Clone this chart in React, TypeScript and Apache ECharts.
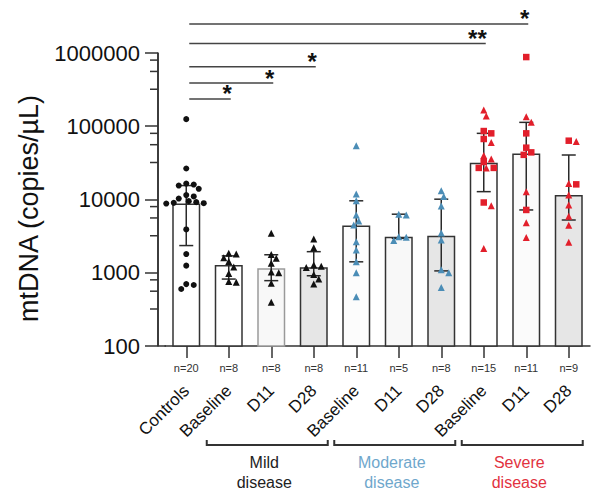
import React, { useEffect, useRef } from "react";
import * as echarts from "echarts";

// ---------------- DATA ----------------
const CATEGORY_LABELS = ["Controls", "Baseline", "D11", "D28", "Baseline", "D11", "D28", "Baseline", "D11", "D28"];
const N_COUNTS = [20, 8, 8, 8, 11, 5, 8, 15, 11, 9];
const BAR_VALUES = [8800, 1280, 1150, 1190, 4400, 3100, 3200, 31800, 42600, 11500];
const ERR_LOW = [2350, 820, 780, 910, 1410, 2950, 1060, 12800, 7200, 5250];
const ERR_HIGH = [15500, 1700, 1760, 1940, 9600, 6300, 10100, 80000, 113000, 40500];

const CONTROLS = [125000, 26500, 16500, 16000, 15500, 14000, 11500, 11000, 10300, 9500, 9200, 9000, 8900, 8800, 3900, 1800, 1250, 700, 680, 600];
const MILD_BASELINE = [1850, 1800, 1600, 1420, 1200, 980, 760, 740];
const MILD_D11 = [3450, 1780, 1580, 1350, 1020, 1000, 720, 395];
const MILD_D28 = [2900, 2200, 1280, 1230, 1180, 950, 820, 700];
const MOD_BASELINE = [54000, 11900, 9600, 6150, 5100, 4500, 2650, 2040, 1410, 1000, 470];
const MOD_D11 = [6300, 6150, 3100, 3050, 2750];
const MOD_D28 = [13200, 11000, 8150, 3500, 2800, 1100, 1000, 630];
const SEV_BASELINE_TRI = [167000, 138000, 60000, 40000, 35700, 27000, 8230, 2150];
const SEV_BASELINE_SQ = [86000, 80000, 67000, 32500, 27000, 27000, 9100];
const SEV_D11_TRI = [135000, 113000, 12800, 4800, 3030];
const SEV_D11_SQ = [880000, 80000, 51000, 44000, 40700, 7200];
const SEV_D28_TRI = [62000, 16600, 11500, 8400, 5900, 4450, 2600];
const SEV_D28_SQ = [63500, 16100];

const SIG_FROM = [0, 0, 0, 0, 0];
const SIG_TO = [1, 2, 3, 7, 8];
const SIG_LABELS = ["*", "*", "*", "**", "*"];

const GROUP_NAMES = ["Mild\ndisease", "Moderate\ndisease", "Severe\ndisease"];
const GROUP_FIRST = [1, 4, 7];
const GROUP_LAST = [3, 6, 9];

const Y_NAME = "mtDNA (copies/\u00B5L)";
const MINOR_TICK_FACTORS = [3.2, 5.6, 8];
const DECADES = [100, 1000, 10000, 100000];

// ---------------- LAYOUT / STYLE ----------------
const W = 608;
const H = 502;
const GRID = { left: 165, right: 18, top: 53, bottom: 156 };
const Y_OFFSET = 7;
const FONT = "'Liberation Sans', Arial, Helvetica, sans-serif";
const AXIS = "#333333";
const BLACK = "#111111";
const BLUE = "#4b8db6";
const RED = "#e21f2b";
const GROUP_COLORS = ["#222222", "#6fa7cc", "#e2333f"];
const BAR_FILLS = ["#ffffff", "#ffffff", "#f8f8f8", "#e6e6e6", "#fcfcfc", "#f8f8f8", "#e6e6e6", "#ffffff", "#fbfbfb", "#e6e6e6"];
const BAR_BORDERS = ["#333", "#333", "#9a9a9a", "#333", "#333", "#333", "#333", "#333", "#333", "#333"];
const SIG_LEVELS = [236000, 389000, 650000, 1350000, 2490000];

type Pt = { cat: number; v: number; key: string };

const POINT_SETS: { cat: number; values: number[]; key: string }[] = [
  { cat: 0, values: CONTROLS, key: "ctrl" },
  { cat: 1, values: MILD_BASELINE, key: "mild" },
  { cat: 2, values: MILD_D11, key: "mild" },
  { cat: 3, values: MILD_D28, key: "mild" },
  { cat: 4, values: MOD_BASELINE, key: "mod" },
  { cat: 5, values: MOD_D11, key: "mod" },
  { cat: 6, values: MOD_D28, key: "mod" },
  { cat: 7, values: SEV_BASELINE_TRI, key: "sevTri" },
  { cat: 7, values: SEV_BASELINE_SQ, key: "sevSq" },
  { cat: 8, values: SEV_D11_TRI, key: "sevTri" },
  { cat: 8, values: SEV_D11_SQ, key: "sevSq" },
  { cat: 9, values: SEV_D28_TRI, key: "sevTri" },
  { cat: 9, values: SEV_D28_SQ, key: "sevSq" },
];

const SERIES_STYLE: Record<string, { symbol: string; size: number; color: string }> = {
  ctrl: { symbol: "circle", size: 6, color: BLACK },
  mild: { symbol: "triangle", size: 7, color: BLACK },
  mod: { symbol: "triangle", size: 7, color: BLUE },
  sevTri: { symbol: "triangle", size: 7, color: RED },
  sevSq: { symbol: "rect", size: 6.5, color: RED },
};

function buildScatterData() {
  const pxPerDecade = (H - GRID.top - GRID.bottom) / 4;
  const bandPx = (W - GRID.left - GRID.right) / CATEGORY_LABELS.length;
  const out: Record<string, number[][]> = {};
  Object.keys(SERIES_STYLE).forEach((k) => (out[k] = []));
  for (let c = 0; c < CATEGORY_LABELS.length; c++) {
    const pts: Pt[] = [];
    POINT_SETS.filter((s) => s.cat === c).forEach((s) => s.values.forEach((v) => pts.push({ cat: c, v, key: s.key })));
    pts.sort((a, b) => b.v - a.v);
    const placed: { x: number; y: number }[] = [];
    const d = 6.2;
    const step = 2.5;
    pts.forEach((p) => {
      const y = Math.log10(p.v) * pxPerDecade;
      let best = 0;
      for (let k = 0; k < 60; k++) {
        const cand = k === 0 ? 0 : (k % 2 ? 1 : -1) * Math.ceil(k / 2) * step;
        if (placed.every((q) => Math.hypot(q.x - cand, q.y - y) >= d)) {
          best = cand;
          break;
        }
      }
      placed.push({ x: best, y });
      out[p.key].push([c + best / bandPx, p.v]);
    });
  }
  return out;
}

function buildOption(): any {
  const scatter = buildScatterData();
  const minorData: number[][] = [];
  DECADES.forEach((d) => MINOR_TICK_FACTORS.forEach((f) => minorData.push([-0.5, d * f])));

  return {
    animation: false,
    backgroundColor: "#ffffff",
    textStyle: { fontFamily: FONT },
    grid: { ...GRID, containLabel: false },
    xAxis: [
      {
        type: "category",
        data: CATEGORY_LABELS.map((_, i) => "c" + i),
        boundaryGap: true,
        axisLine: { show: true, lineStyle: { color: AXIS, width: 1.5 } },
        axisTick: { show: true, alignWithLabel: true, length: 12, lineStyle: { color: AXIS, width: 1.5 } },
        axisLabel: {
          interval: 0,
          rotate: 45,
          margin: 42,
          fontSize: 17,
          color: BLACK,
          fontFamily: FONT,
          formatter: (_v: string, i: number) => CATEGORY_LABELS[i],
        },
        splitLine: { show: false },
      },
      { type: "value", min: -0.5, max: 9.5, show: false },
    ],
    yAxis: {
      type: "log",
      logBase: 10,
      min: 100,
      max: 1000000,
      offset: Y_OFFSET,
      name: Y_NAME,
      nameLocation: "middle",
      nameGap: 116,
      nameTextStyle: { fontSize: 27, color: BLACK, fontFamily: FONT, padding: [0, 18, 0, 0] },
      axisLine: { show: true, onZero: false, lineStyle: { color: AXIS, width: 1.5 } },
      axisTick: { show: true, length: 13, lineStyle: { color: AXIS, width: 1.5 } },
      axisLabel: {
        fontSize: 22,
        color: BLACK,
        margin: 18,
        fontFamily: FONT,
        formatter: (v: number) => String(Math.round(v)),
      },
      splitLine: { show: false },
    },
    series: [
      {
        type: "bar",
        xAxisIndex: 0,
        yAxisIndex: 0,
        barWidth: 28,
        z: 2,
        data: BAR_VALUES.map((v, i) => ({
          value: v,
          itemStyle: { color: BAR_FILLS[i], borderColor: BAR_BORDERS[i], borderWidth: 1.5 },
        })),
      },
      {
        type: "custom",
        xAxisIndex: 1,
        yAxisIndex: 0,
        z: 3,
        silent: true,
        data: BAR_VALUES.map((_, i) => [i, ERR_LOW[i], ERR_HIGH[i]]),
        encode: { x: 0, y: [1, 2] },
        renderItem: (_p: any, api: any) => {
          const i = api.value(0);
          const lo = api.coord([i, api.value(1)]);
          const hi = api.coord([i, api.value(2)]);
          const hw = 7;
          const st = { stroke: "#2a2a2a", lineWidth: 1.5 };
          return {
            type: "group",
            children: [
              { type: "line", shape: { x1: lo[0], y1: lo[1], x2: hi[0], y2: hi[1] }, style: st },
              { type: "line", shape: { x1: lo[0] - hw, y1: lo[1], x2: lo[0] + hw, y2: lo[1] }, style: st },
              { type: "line", shape: { x1: hi[0] - hw, y1: hi[1], x2: hi[0] + hw, y2: hi[1] }, style: st },
            ],
          };
        },
      },
      ...Object.keys(SERIES_STYLE).map((k) => ({
        type: "scatter",
        xAxisIndex: 1,
        yAxisIndex: 0,
        z: 5,
        symbol: SERIES_STYLE[k].symbol,
        symbolSize: SERIES_STYLE[k].size,
        itemStyle: { color: SERIES_STYLE[k].color, opacity: 1 },
        data: scatter[k],
      })),
      {
        type: "custom",
        xAxisIndex: 1,
        yAxisIndex: 0,
        z: 6,
        silent: true,
        data: N_COUNTS.map((n, i) => [i, 100, n]),
        renderItem: (_p: any, api: any) => {
          const pt = api.coord([api.value(0), api.value(1)]);
          return {
            type: "text",
            x: pt[0],
            y: pt[1] + 22,
            style: {
              text: "n=" + api.value(2),
              align: "center",
              verticalAlign: "middle",
              fontSize: 11,
              fontFamily: FONT,
              fill: "#333",
            },
          };
        },
      },
      {
        type: "custom",
        xAxisIndex: 1,
        yAxisIndex: 0,
        z: 20,
        silent: true,
        data: minorData,
        renderItem: (p: any, api: any) => {
          const pt = api.coord([api.value(0), api.value(1)]);
          const x0 = pt[0] - Y_OFFSET;
          const children: any[] = [
            {
              type: "line",
              shape: { x1: x0, y1: pt[1], x2: x0 - 8, y2: pt[1] },
              style: { stroke: AXIS, lineWidth: 1.5 },
            },
          ];
          if (p.dataIndex === 0) {
            const top = api.coord([api.value(0), 1000000])[1];
            const bottom = api.coord([api.value(0), 100])[1];
            children.push({
              type: "line",
              shape: { x1: x0, y1: top, x2: x0, y2: bottom },
              style: { stroke: AXIS, lineWidth: 1.6 },
            });
            children.push({
              type: "line",
              shape: { x1: x0, y1: bottom, x2: pt[0] + 1, y2: bottom },
              style: { stroke: AXIS, lineWidth: 1.5 },
            });
          }
          return { type: "group", children };
        },
      },
    ],
  };
}

function buildGraphic(chart: any): any[] {
  const xp = (i: number) => chart.convertToPixel({ xAxisIndex: 1 }, i) as number;
  const yp = (v: number) => chart.convertToPixel({ yAxisIndex: 0 }, v) as number;
  const axisY = yp(100);
  const els: any[] = [];
  SIG_TO.forEach((to, k) => {
    const y = yp(SIG_LEVELS[k]);
    const x1 = xp(SIG_FROM[k]) + 3;
    const x2 = xp(to) + 2;
    els.push({ type: "line", shape: { x1, y1: y, x2, y2: y }, style: { stroke: "#444", lineWidth: 1.5 } });
    els.push({
      type: "text",
      x: x2 + 1,
      y: y - 17,
      style: {
        text: SIG_LABELS[k],
        fontSize: 24,
        fontWeight: "bold",
        fontFamily: FONT,
        fill: BLACK,
        textAlign: "right",
        textVerticalAlign: "top",
      },
    });
  });
  GROUP_NAMES.forEach((name, g) => {
    const bx1 = xp(GROUP_FIRST[g]) - 22;
    const bx2 = xp(GROUP_LAST[g]) + 14;
    const by = axisY + 99;
    els.push({
      type: "polyline",
      shape: { points: [[bx1, by - 5], [bx1, by], [bx2, by], [bx2, by - 5]] },
      style: { stroke: "#333", lineWidth: 2, fill: null },
    });
    const mid = (GROUP_FIRST[g] + GROUP_LAST[g]) / 2;
    els.push({
      type: "text",
      x: xp(mid) - 7,
      y: axisY + 106,
      style: {
        text: name,
        fontSize: 16,
        lineHeight: 20,
        fontFamily: FONT,
        fill: GROUP_COLORS[g],
        textAlign: "center",
        textVerticalAlign: "top",
      },
    });
  });
  return els;
}

export default function App() {
  const ref = useRef<HTMLDivElement>(null);
  useEffect(() => {
    if (!ref.current) return;
    const chart = echarts.init(ref.current, undefined, { renderer: "svg" });
    chart.setOption(buildOption());
    chart.setOption({ graphic: buildGraphic(chart) });
    return () => chart.dispose();
  }, []);
  return (
    <div
      ref={ref}
      style={{ position: "absolute", left: 0, top: 0, width: W, height: H, background: "#fff" }}
    />
  );
}
